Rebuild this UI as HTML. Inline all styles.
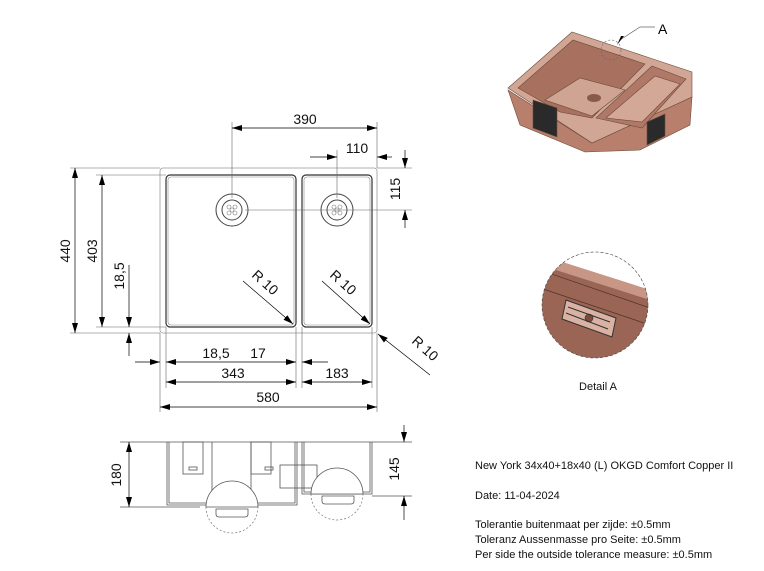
<!DOCTYPE html>
<html><head><style>
body{margin:0;background:#fff;}
svg{display:block;font-family:"Liberation Sans",Arial,sans-serif;}
</style></head><body>
<svg width="764" height="571" viewBox="0 0 764 571" xmlns="http://www.w3.org/2000/svg">
<defs>
<marker id="a" viewBox="0 0 10 6" refX="10" refY="3" markerWidth="10" markerHeight="6" orient="auto-start-reverse" markerUnits="userSpaceOnUse"><path d="M0,0L10,3L0,6z" fill="#000"/></marker>
</defs>
<g stroke="#999" stroke-width="0.8" fill="none">
<rect x="160" y="168" width="217" height="165" rx="3"/>
</g>
<g stroke="#333" stroke-width="1.2" fill="none">
<rect x="166" y="175" width="130" height="152" rx="4"/>
<rect x="302" y="175" width="70" height="152" rx="4"/>
</g>
<g stroke="#888" stroke-width="0.6" fill="none">
<rect x="168" y="177" width="126" height="148" rx="3"/>
<rect x="304" y="177" width="66" height="148" rx="3"/>
</g>
<g stroke="#444" fill="none">
<circle cx="232" cy="210" r="16" stroke-width="1"/><circle cx="232" cy="210" r="10" stroke-width="1"/>
<circle cx="337" cy="210" r="16" stroke-width="1"/><circle cx="337" cy="210" r="10" stroke-width="1"/>
</g>
<g fill="none" stroke="#777" stroke-width="0.6">
<circle cx="229" cy="207" r="2"/><circle cx="235" cy="207" r="2"/><circle cx="229" cy="213" r="2"/><circle cx="235" cy="213" r="2"/><circle cx="232" cy="210" r="2"/>
<circle cx="334" cy="207" r="2"/><circle cx="340" cy="207" r="2"/><circle cx="334" cy="213" r="2"/><circle cx="340" cy="213" r="2"/><circle cx="337" cy="210" r="2"/>
</g>
<g stroke="#666" stroke-width="0.6" fill="none">
<line x1="232" y1="122" x2="232" y2="198"/>
<line x1="377" y1="122" x2="377" y2="168"/>
<line x1="337" y1="150" x2="337" y2="198"/>
<line x1="245" y1="210" x2="412" y2="210"/>
<line x1="377" y1="168" x2="412" y2="168"/>
<line x1="70" y1="168" x2="160" y2="168"/>
<line x1="70" y1="333" x2="160" y2="333"/>
<line x1="96" y1="175" x2="166" y2="175"/>
<line x1="96" y1="327" x2="166" y2="327"/>
<line x1="160" y1="333" x2="160" y2="412"/>
<line x1="377" y1="333" x2="377" y2="412"/>
<line x1="166" y1="327" x2="166" y2="388"/>
<line x1="296" y1="327" x2="296" y2="388"/>
<line x1="302" y1="327" x2="302" y2="388"/>
<line x1="372" y1="327" x2="372" y2="388"/>
</g>
<g stroke="#000" stroke-width="0.7" fill="none">
<line x1="232" y1="128" x2="377" y2="128" marker-start="url(#a)" marker-end="url(#a)"/>
<line x1="310" y1="157" x2="337" y2="157" marker-end="url(#a)"/>
<line x1="392" y1="157" x2="377" y2="157" marker-end="url(#a)"/>
<line x1="405" y1="150" x2="405" y2="168" marker-end="url(#a)"/>
<line x1="405" y1="228" x2="405" y2="210" marker-end="url(#a)"/>
<line x1="75" y1="168" x2="75" y2="333" marker-start="url(#a)" marker-end="url(#a)"/>
<line x1="102" y1="175" x2="102" y2="327" marker-start="url(#a)" marker-end="url(#a)"/>
<line x1="129" y1="265" x2="129" y2="327" marker-end="url(#a)"/>
<line x1="129" y1="356" x2="129" y2="333" marker-end="url(#a)"/>
<line x1="135" y1="362" x2="160" y2="362" marker-end="url(#a)"/>
<line x1="166" y1="362" x2="296" y2="362" marker-start="url(#a)" marker-end="url(#a)"/>
<line x1="328" y1="362" x2="302" y2="362" marker-end="url(#a)"/>
<line x1="166" y1="382" x2="296" y2="382" marker-start="url(#a)" marker-end="url(#a)"/>
<line x1="302" y1="382" x2="372" y2="382" marker-start="url(#a)" marker-end="url(#a)"/>
<line x1="160" y1="407" x2="377" y2="407" marker-start="url(#a)" marker-end="url(#a)"/>
<line x1="243" y1="281" x2="293" y2="324" marker-end="url(#a)"/>
<line x1="322" y1="281" x2="370" y2="324" marker-end="url(#a)"/>
<line x1="430" y1="375" x2="378" y2="334" marker-end="url(#a)"/>
</g>
<g font-size="14" fill="#111" text-anchor="middle">
<text x="305" y="124">390</text>
<text x="357" y="153">110</text>
<text x="216" y="358">18,5</text>
<text x="258" y="358">17</text>
<text x="233" y="378">343</text>
<text x="337" y="378">183</text>
<text x="268" y="402">580</text>
<text transform="translate(400,189) rotate(-90)">115</text>
<text transform="translate(70,251) rotate(-90)">440</text>
<text transform="translate(97,251) rotate(-90)">403</text>
<text transform="translate(124,276) rotate(-90)">18,5</text>
<text transform="translate(262,286) rotate(42)">R 10</text>
<text transform="translate(340,286) rotate(42)">R 10</text>
<text transform="translate(422,352) rotate(42)">R 10</text>
<text transform="translate(121,475) rotate(-90)">180</text>
<text transform="translate(399,469) rotate(-90)">145</text>
</g>
<g stroke="#555" stroke-width="0.8" fill="none">
<line x1="120" y1="442" x2="412" y2="442"/>
<line x1="120" y1="507" x2="200" y2="507"/>
<line x1="372" y1="496" x2="412" y2="496"/>
<path d="M167,442V505H297V442"/>
<path d="M169,442V503H295V442"/>
<path d="M302,442V494H372V442"/>
<path d="M304,442V492H370V442"/>
<rect x="183" y="442" width="20" height="32"/>
<rect x="251" y="442" width="20" height="32"/>
<rect x="280" y="465" width="37" height="23"/>
<rect x="189" y="467" width="8" height="3"/>
<rect x="265" y="467" width="8" height="3"/>
<line x1="212" y1="442" x2="212" y2="503"/>
<line x1="251" y1="442" x2="251" y2="503"/>
<path d="M206,507A26,26 0 0 1 258,507Z" fill="#fff"/>
<path d="M311,494A26,26 0 0 1 363,494Z" fill="#fff"/>
<path d="M216,509h32v5q0,3 -3,3h-26q-3,0 -3,-3z"/>
<path d="M322,496h32v5q0,3 -3,3h-26q-3,0 -3,-3z"/>
</g>
<g stroke="#777" stroke-width="0.7" fill="none" stroke-dasharray="2,2">
<path d="M206,507A26,26 0 0 0 258,507"/>
<path d="M311,494A26,26 0 0 0 363,494"/>
</g>
<g stroke="#000" stroke-width="0.7">
<line x1="129" y1="442" x2="129" y2="507" marker-start="url(#a)" marker-end="url(#a)"/>
<line x1="404" y1="425" x2="404" y2="442" marker-end="url(#a)"/>
<line x1="404" y1="520" x2="404" y2="496" marker-end="url(#a)"/>
</g>
<!-- 3D copper -->
<g stroke="#6b4a3c" stroke-width="0.6">
<polygon points="508,90 592,143 692,97 690,125 640,150 585,152 520,125" fill="#b8806c"/>
<polygon points="508,88 572,32 650,58 692,72 692,97 592,143" fill="#d2a694"/>
<polygon points="518,88 573,40 645,64 592,118 560,112" fill="#a8705e"/>
<polygon points="545,100 580,78 625,90 592,116" fill="#d0a492"/>
<polygon points="596,118 652,66 686,79 642,128" fill="#b07866"/>
<polygon points="606,118 655,76 680,84 642,122" fill="#d4a896"/>
<polygon points="533,100 557,108 557,137 533,128" fill="#2a2a2a"/>
<polygon points="647,122 665,114 665,136 647,145" fill="#2a2a2a"/>
</g>
<ellipse cx="594" cy="98" rx="7" ry="4" fill="#8a5a48"/>
<circle cx="611" cy="50" r="10" fill="none" stroke="#666" stroke-dasharray="2,2" stroke-width="0.6"/>
<path d="M620,40L640,27H655" stroke="#666" fill="none" stroke-width="0.7"/>
<path d="M624,36L617,45L621,36z" fill="#000"/>
<text x="658" y="34" font-size="14">A</text>
<clipPath id="c"><circle cx="595" cy="305" r="53"/></clipPath>
<g clip-path="url(#c)">
<rect x="540" y="250" width="110" height="110" fill="#9a6554"/>
<polygon points="540,250 650,250 650,290 540,255" fill="#fff"/>
<polygon points="540,255 650,290 650,300 540,265" fill="#c89684"/>
<line x1="540" y1="270" x2="650" y2="308" stroke="#4a2e25" stroke-width="0.7"/>
<line x1="540" y1="288" x2="650" y2="325" stroke="#4a2e25" stroke-width="0.7"/>
</g>
<circle cx="595" cy="305" r="53" fill="none" stroke="#444" stroke-dasharray="3,2" stroke-width="0.6"/>
<polygon points="566,300 616,318 612,337 562,319" fill="#d9b2a4" stroke="#333" stroke-width="1"/>
<circle cx="589" cy="318" r="4" fill="#7a4a3a" stroke="#333" stroke-width="0.6"/>
<line x1="568" y1="307" x2="610" y2="322" stroke="#333"/>
<line x1="566" y1="313" x2="608" y2="329" stroke="#333"/>
<text x="598" y="390" font-size="11" text-anchor="middle" fill="#111">Detail A</text>
<g font-size="11" fill="#111">
<text x="475" y="469">New York 34x40+18x40 (L) OKGD Comfort Copper II</text>
<text x="475" y="499">Date: 11-04-2024</text>
<text x="475" y="528">Tolerantie buitenmaat per zijde: ±0.5mm</text>
<text x="475" y="543">Toleranz Aussenmasse pro Seite: ±0.5mm</text>
<text x="475" y="558">Per side the outside tolerance measure: ±0.5mm</text>
</g>
</svg>
</body></html>
